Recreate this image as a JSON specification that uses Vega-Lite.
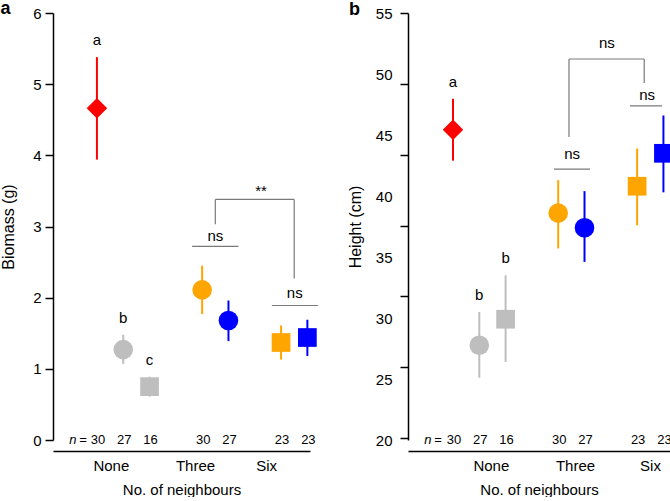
{
  "$schema": "https://vega.github.io/schema/vega-lite/v6.json",
  "background": "white",
  "padding": 0,
  "spacing": 28,
  "config": {
    "view": {"stroke": null},
    "font": "Liberation Sans",
    "axis": {"grid": false, "domainColor": "black", "tickColor": "black", "labelColor": "black", "titleColor": "black", "titleFontWeight": "normal", "labelFont": "Liberation Sans", "titleFont": "Liberation Sans"},
    "text": {"font": "Liberation Sans", "color": "black"}
  },
  "datasets": {
    "a": [
      {"group": "None", "pos": 1, "mean": 4.66, "lo": 3.94, "hi": 5.38, "n": 30, "letter": "a", "col": "A", "shp": "P"},
      {"group": "None", "pos": 2, "mean": 1.27, "lo": 1.07, "hi": 1.48, "n": 27, "letter": "b", "col": "B", "shp": "Q"},
      {"group": "None", "pos": 3, "mean": 0.75, "lo": 0.61, "hi": 0.89, "n": 16, "letter": "c", "col": "B", "shp": "R"},
      {"group": "Three", "pos": 5, "mean": 2.11, "lo": 1.77, "hi": 2.45, "n": 30, "letter": "", "col": "C", "shp": "Q"},
      {"group": "Three", "pos": 6, "mean": 1.68, "lo": 1.39, "hi": 1.96, "n": 27, "letter": "", "col": "D", "shp": "Q"},
      {"group": "Six", "pos": 8, "mean": 1.37, "lo": 1.13, "hi": 1.61, "n": 23, "letter": "", "col": "C", "shp": "R"},
      {"group": "Six", "pos": 9, "mean": 1.44, "lo": 1.18, "hi": 1.69, "n": 23, "letter": "", "col": "D", "shp": "R"}
    ],
    "b": [
      {"group": "None", "pos": 1, "mean": 45.43, "lo": 42.9, "hi": 47.97, "n": 30, "letter": "a", "col": "A", "shp": "P"},
      {"group": "None", "pos": 2, "mean": 27.77, "lo": 25.1, "hi": 30.5, "n": 27, "letter": "b", "col": "B", "shp": "Q"},
      {"group": "None", "pos": 3, "mean": 29.9, "lo": 26.4, "hi": 33.5, "n": 16, "letter": "b", "col": "B", "shp": "R"},
      {"group": "Three", "pos": 5, "mean": 38.6, "lo": 35.7, "hi": 41.3, "n": 30, "letter": "", "col": "C", "shp": "Q"},
      {"group": "Three", "pos": 6, "mean": 37.4, "lo": 34.6, "hi": 40.4, "n": 27, "letter": "", "col": "D", "shp": "Q"},
      {"group": "Six", "pos": 8, "mean": 40.8, "lo": 37.6, "hi": 43.9, "n": 23, "letter": "", "col": "C", "shp": "R"},
      {"group": "Six", "pos": 9, "mean": 43.5, "lo": 40.3, "hi": 46.6, "n": 23, "letter": "", "col": "D", "shp": "R"}
    ],
    "segA": [
      {"x1": 4.62, "x2": 6.38, "y1": 2.72, "y2": 2.72},
      {"x1": 7.65, "x2": 9.4, "y1": 1.89, "y2": 1.89},
      {"x1": 5.5, "x2": 8.5, "y1": 3.38, "y2": 3.38},
      {"x1": 5.5, "x2": 5.5, "y1": 3.38, "y2": 3.03},
      {"x1": 8.5, "x2": 8.5, "y1": 3.38, "y2": 2.27}
    ],
    "labA": [
      {"x": 5.5, "y": 2.87, "label": "ns"},
      {"x": 8.52, "y": 2.06, "label": "ns"},
      {"x": 7.24, "y": 3.5, "label": "**"}
    ],
    "segB": [
      {"x1": 4.84, "x2": 6.21, "y1": 42.21, "y2": 42.21},
      {"x1": 7.73, "x2": 8.95, "y1": 47.38, "y2": 47.38},
      {"x1": 5.41, "x2": 8.27, "y1": 51.23, "y2": 51.23},
      {"x1": 5.41, "x2": 5.41, "y1": 51.23, "y2": 44.84},
      {"x1": 8.27, "x2": 8.27, "y1": 51.23, "y2": 49.26}
    ],
    "labB": [
      {"x": 5.53, "y": 43.44, "label": "ns"},
      {"x": 8.38, "y": 48.28, "label": "ns"},
      {"x": 6.85, "y": 52.54, "label": "ns"}
    ]
  },
  "hconcat": [
    {
      "width": 257,
      "height": 427,
      "layer": [
        {
          "data": {"name": "a"},
          "mark": {"type": "rule", "strokeWidth": 2},
          "encoding": {
            "x": {"field": "pos", "type": "quantitative", "scale": {"domain": [-0.67, 9.1], "nice": false, "zero": false},
              "axis": {"values": [1.53, 4.73, 7.43], "labelExpr": "datum.value < 3 ? 'None' : datum.value < 6.5 ? 'Three' : 'Six'", "ticks": false, "tickSize": 0, "domainWidth": 1.5, "offset": 11, "labelFontSize": 15, "labelPadding": 7, "labelFlush": false, "labelOverlap": false, "title": "No. of neighbours", "titleFontSize": 15, "titlePadding": 9}},
            "y": {"field": "lo", "type": "quantitative", "scale": {"domain": [0, 6], "nice": false},
              "axis": {"values": [0, 1, 2, 3, 4, 5, 6], "format": "d", "tickSize": 8, "tickWidth": 1.5, "domainWidth": 1.5, "labelFontSize": 15, "labelPadding": 4, "title": "Biomass (g)", "titleFontSize": 16, "titlePadding": 16}},
            "y2": {"field": "hi"},
            "color": {"field": "col", "type": "nominal", "scale": {"domain": ["A", "B", "C", "D"], "range": ["#FF0000", "#BEBEBE", "#FFA500", "#0000FF"]}, "legend": null}
          }
        },
        {
          "data": {"name": "a"},
          "mark": {"type": "point", "filled": true, "opacity": 1, "strokeWidth": 0},
          "encoding": {
            "x": {"field": "pos", "type": "quantitative"},
            "y": {"field": "mean", "type": "quantitative"},
            "color": {"field": "col", "type": "nominal", "legend": null},
            "shape": {"field": "shp", "type": "nominal", "scale": {"domain": ["P", "Q", "R"], "range": ["diamond", "circle", "square"]}, "legend": null},
            "size": {"field": "shp", "type": "ordinal", "scale": {"domain": ["P", "Q", "R"], "range": [420, 350, 235]}, "legend": null}
          }
        },
        {
          "data": {"name": "a"},
          "mark": {"type": "text", "fontSize": 15, "dy": -17},
          "encoding": {
            "x": {"field": "pos", "type": "quantitative"},
            "y": {"field": "hi", "type": "quantitative"},
            "text": {"field": "letter"}
          }
        },
        {
          "data": {"name": "a"},
          "mark": {"type": "text", "fontSize": 13, "dx": 1},
          "encoding": {
            "x": {"field": "pos", "type": "quantitative"},
            "y": {"datum": 0},
            "text": {"field": "n"}
          }
        },
        {
          "data": {"values": [{}]},
          "mark": {"type": "text", "fontSize": 13, "fontStyle": "italic", "text": "n", "dx": -24},
          "encoding": {"x": {"datum": 1}, "y": {"datum": 0}}
        },
        {
          "data": {"values": [{}]},
          "mark": {"type": "text", "fontSize": 13, "text": "=", "dx": -14},
          "encoding": {"x": {"datum": 1}, "y": {"datum": 0}}
        },
        {
          "data": {"name": "segA"},
          "mark": {"type": "rule", "color": "#7A7A7A", "strokeWidth": 1.2},
          "encoding": {
            "x": {"field": "x1", "type": "quantitative"},
            "x2": {"field": "x2"},
            "y": {"field": "y1", "type": "quantitative"},
            "y2": {"field": "y2"}
          }
        },
        {
          "data": {"name": "labA"},
          "mark": {"type": "text", "fontSize": 15},
          "encoding": {
            "x": {"field": "x", "type": "quantitative"},
            "y": {"field": "y", "type": "quantitative"},
            "text": {"field": "label"}
          }
        },
        {
          "data": {"values": [{}]},
          "mark": {"type": "text", "fontSize": 18, "fontWeight": "bold", "text": "a"},
          "encoding": {"x": {"datum": -2.48}, "y": {"datum": 6.05}}
        }
      ]
    },
    {
      "width": 262,
      "height": 427,
      "layer": [
        {
          "data": {"name": "b"},
          "mark": {"type": "rule", "strokeWidth": 2},
          "encoding": {
            "x": {"field": "pos", "type": "quantitative", "scale": {"domain": [-0.71, 9.25], "nice": false, "zero": false},
              "axis": {"values": [2.44, 5.64, 8.49], "labelExpr": "datum.value < 4 ? 'None' : datum.value < 7 ? 'Three' : 'Six'", "ticks": false, "tickSize": 0, "domainWidth": 1.5, "offset": 11, "labelFontSize": 15, "labelPadding": 7, "labelFlush": false, "labelOverlap": false, "title": "No. of neighbours", "titleFontSize": 15, "titlePadding": 9}},
            "y": {"field": "lo", "type": "quantitative", "scale": {"domain": [20, 55.001], "nice": false, "zero": false},
              "axis": {"values": [20, 20.17, 25, 25.97, 30, 31.78, 35, 37.58, 40, 43.39, 45, 49.19, 50, 55], "tickCount": 100, "format": "d", "labelExpr": "abs(datum.value - round(datum.value / 5) * 5) < 0.01 ? datum.label : ''", "labelOverlap": false, "tickColor": {"condition": {"test": "abs(datum.value - round(datum.value / 5) * 5) < 0.01 && datum.value < 54", "value": "transparent"}, "value": "black"}, "tickSize": 8, "tickWidth": 1.5, "domainWidth": 1.5, "labelFontSize": 15, "labelPadding": 8, "title": "Height (cm)", "titleFontSize": 16, "titlePadding": 12}},
            "y2": {"field": "hi"},
            "color": {"field": "col", "type": "nominal", "scale": {"domain": ["A", "B", "C", "D"], "range": ["#FF0000", "#BEBEBE", "#FFA500", "#0000FF"]}, "legend": null}
          }
        },
        {
          "data": {"name": "b"},
          "mark": {"type": "point", "filled": true, "opacity": 1, "strokeWidth": 0},
          "encoding": {
            "x": {"field": "pos", "type": "quantitative"},
            "y": {"field": "mean", "type": "quantitative"},
            "color": {"field": "col", "type": "nominal", "legend": null},
            "shape": {"field": "shp", "type": "nominal", "scale": {"domain": ["P", "Q", "R"], "range": ["diamond", "circle", "square"]}, "legend": null},
            "size": {"field": "shp", "type": "ordinal", "scale": {"domain": ["P", "Q", "R"], "range": [420, 350, 235]}, "legend": null}
          }
        },
        {
          "data": {"name": "b"},
          "mark": {"type": "text", "fontSize": 15, "dy": -17},
          "encoding": {
            "x": {"field": "pos", "type": "quantitative"},
            "y": {"field": "hi", "type": "quantitative"},
            "text": {"field": "letter"}
          }
        },
        {
          "data": {"name": "b"},
          "mark": {"type": "text", "fontSize": 13, "dx": 1},
          "encoding": {
            "x": {"field": "pos", "type": "quantitative"},
            "y": {"datum": 20},
            "text": {"field": "n"}
          }
        },
        {
          "data": {"values": [{}]},
          "mark": {"type": "text", "fontSize": 13, "fontStyle": "italic", "text": "n", "dx": -25},
          "encoding": {"x": {"datum": 1}, "y": {"datum": 20}}
        },
        {
          "data": {"values": [{}]},
          "mark": {"type": "text", "fontSize": 13, "text": "=", "dx": -15},
          "encoding": {"x": {"datum": 1}, "y": {"datum": 20}}
        },
        {
          "data": {"name": "segB"},
          "mark": {"type": "rule", "color": "#7A7A7A", "strokeWidth": 1.2},
          "encoding": {
            "x": {"field": "x1", "type": "quantitative"},
            "x2": {"field": "x2"},
            "y": {"field": "y1", "type": "quantitative"},
            "y2": {"field": "y2"}
          }
        },
        {
          "data": {"name": "labB"},
          "mark": {"type": "text", "fontSize": 15},
          "encoding": {
            "x": {"field": "x", "type": "quantitative"},
            "y": {"field": "y", "type": "quantitative"},
            "text": {"field": "label"}
          }
        },
        {
          "data": {"values": [{}]},
          "mark": {"type": "text", "fontSize": 18, "fontWeight": "bold", "text": "b"},
          "encoding": {"x": {"datum": -2.74}, "y": {"datum": 55.27}}
        }
      ]
    }
  ]
}
